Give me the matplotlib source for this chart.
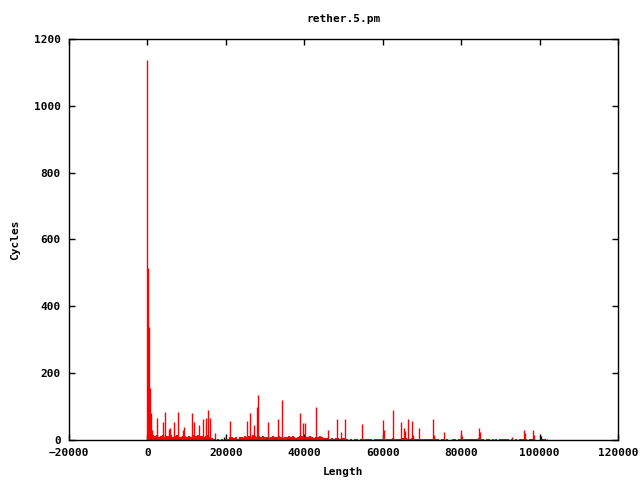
import matplotlib
matplotlib.use("Agg")
import matplotlib.pyplot as plt
import numpy as np

# tall impulses (length, cycles)
spike_len = [0, 200, 450, 700, 1000, 1200, 2480, 4020, 4530, 5550, 5800, 6830,
             7850, 9130, 9380, 11430, 11940, 13215, 14240, 15000, 15515, 16025,
             17300, 21135, 25480, 26245, 27270, 28035, 28290, 30845, 33400,
             34420, 39020, 39790, 40300, 43110, 45920, 48220, 49240, 50260,
             54600, 59970, 60230, 62530, 64570, 65340, 65600, 66360, 67380,
             67640, 69170, 72750, 73000, 75560, 79900, 80160, 84500, 84760,
             92930, 96000, 96250, 98300, 98550, 101870]
spike_cyc = [1137, 515, 338, 155, 81, 30, 65, 54, 84, 33, 36, 54,
             84, 30, 39, 80, 54, 45, 63, 66, 90, 66,
             21, 58, 57, 81, 45, 99, 135, 54, 63,
             120, 81, 51, 51, 99, 30, 63, 24, 63,
             48, 60, 30, 90, 54, 36, 27, 63, 57,
             15, 36, 63, 15, 24, 30, 12, 36, 24,
             9, 30, 21, 30, 15, 3]

# low dense impulses, one every 500 from 500 to 101500
base_len = list(range(500, 102000, 500))
base_cyc = [40, 25, 15, 12, 14, 10, 12, 15, 9, 13,
            11, 14, 9, 12, 15, 10, 8, 13, 11, 9,
            12, 10, 14, 9, 12, 15, 11, 13, 10, 12,
            14, 9, 6, 3, 0, 2, 0, 3, 0, 2,
            4, 8, 10, 7, 9, 3, 8, 10, 6, 12,
            10, 13, 9, 15, 11, 8, 12, 9, 11, 8,
            10, 7, 9, 11, 8, 10, 12, 9, 7, 10,
            9, 11, 8, 12, 10, 7, 9, 11, 12, 9,
            8, 10, 12, 9, 7, 10, 8, 11, 9, 6,
            5, 6, 4, 5, 3, 6, 5, 4, 5, 6,
            4, 3, 0, 3, 0, 2, 3, 0, 3, 4,
            3, 3, 2, 3, 0, 3, 3, 2, 3, 4,
            4, 3, 4, 4, 5, 3, 4, 3, 4, 5,
            6, 5, 4, 4, 5, 3, 4, 4, 3, 4,
            3, 4, 3, 3, 4, 6, 4, 3, 0, 3,
            4, 0, 2, 0, 0, 3, 2, 0, 3, 4,
            3, 3, 4, 3, 3, 2, 3, 4, 5, 4,
            3, 0, 2, 3, 0, 3, 0, 2, 0, 3,
            4, 3, 3, 4, 0, 3, 0, 2, 0, 3,
            4, 4, 3, 0, 3, 4, 3, 0, 0, 0,
            3, 3, 2]

# a couple of short black impulses
black_len = [19600, 100340]
black_cyc = [10, 12]

mono = "DejaVu Sans Mono"

fig = plt.figure(figsize=(6.4, 4.8), dpi=100)
ax = fig.add_axes([69 / 640, 40 / 480, 549 / 640, 401 / 480])

ax.vlines(base_len, 0, base_cyc, color="red", lw=1.6)
ax.vlines(spike_len, 0, spike_cyc, color="red", lw=1.0)
ax.vlines(black_len, 0, black_cyc, color="black", lw=1.0)

ax.set_xlim(-20000, 120000)
ax.set_ylim(0, 1200)
ax.set_xticks(np.arange(-20000, 120001, 20000))
ax.set_yticks(np.arange(0, 1201, 200))
ax.tick_params(direction="in", top=True, right=True, length=4.5, width=1,
               labelsize=8, pad=6)
for lab in ax.get_xticklabels() + ax.get_yticklabels():
    lab.set_fontfamily(mono)
    lab.set_fontweight("bold")
for s in ax.spines.values():
    s.set_linewidth(1.0)

fig.text(343 / 640, 1 - 19 / 480, "rether.5.pm", ha="center", va="center",
         fontsize=8, fontweight="bold", family=mono)
fig.text(343 / 640, 1 - 472 / 480, "Length", ha="center", va="center",
         fontsize=8, fontweight="bold", family=mono)
fig.text(15 / 640, 1 - 240 / 480, "Cycles", ha="center", va="center",
         rotation=90, fontsize=8, fontweight="bold", family=mono)

fig.savefig("out.png", dpi=100)
